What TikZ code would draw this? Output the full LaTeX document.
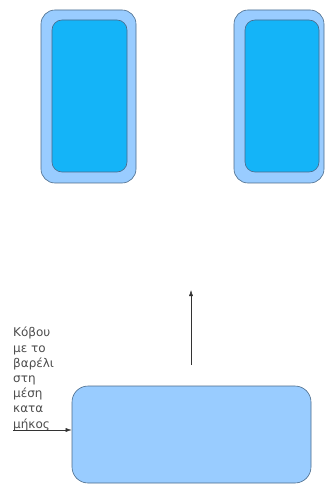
\documentclass[tikz,border=0pt]{standalone}
\usepackage{fontspec}
\setmainfont{DejaVu Sans}
\usetikzlibrary{arrows.meta}
\definecolor{paleblue}{HTML}{99CCFF}
\definecolor{skyblue}{HTML}{14B4F8}
\definecolor{edgeblue}{HTML}{4A6A8A}
\tikzset{
  outerbox/.style={draw=edgeblue, line width=0.6pt, fill=paleblue, rounded corners=14pt, inner sep=0pt},
  innerbox/.style={draw=edgeblue, line width=0.6pt, fill=skyblue, rounded corners=10pt, inner sep=0pt},
  basebox/.style={draw=edgeblue, line width=0.6pt, fill=paleblue, rounded corners=16pt, inner sep=0pt},
  pointer/.style={-{Latex[length=6pt,width=4pt]}, line width=0.5pt, draw=black!80}
}
\begin{document}
\begin{tikzpicture}[x=1pt, y=-1pt]
\useasboundingbox (0,0) rectangle (325,486);
% two upright boxes, each with a darker panel inside
\node[outerbox, minimum width=95pt, minimum height=173pt] (lout) at (88.5,96.5) {};
\node[innerbox, minimum width=75pt, minimum height=152pt] (lin) at (89.5,96) {};
\node[outerbox, minimum width=90pt, minimum height=173pt] (rout) at (279,96.5) {};
\node[innerbox, minimum width=74pt, minimum height=152pt] (rin) at (282,96) {};
% wide box at the bottom
\node[basebox, minimum width=239pt, minimum height=97pt] (base) at (191.5,434.5) {};
% upward arrow above the bottom box
\coordinate (upstart) at (191,365);
\coordinate (uptip) at (191,290);
\draw[pointer] (upstart) -- (uptip);
% side label with its pointer
\node[anchor=north west, align=left, font=\fontsize{12}{15.2}\selectfont, text=black!70, inner sep=0pt] (label) at (13,327)
  {Κόβου\\με το\\βαρέλι\\στη\\μέση\\κατα\\μήκος};
\coordinate (lstart) at (13,430);
\draw[pointer] (lstart) -- (lstart -| base.west);
\end{tikzpicture}
\end{document}
